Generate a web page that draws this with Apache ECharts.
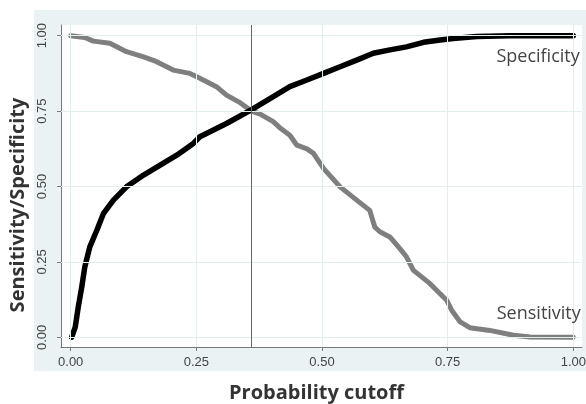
<!DOCTYPE html>
<html>
<head>
<meta charset="utf-8">
<script src="https://cdn.jsdelivr.net/npm/echarts@6/dist/echarts.min.js"></script>
<style>
html,body{margin:0;padding:0;background:#fff;}
#c{width:586px;height:404px;}
</style>
</head>
<body>
<div id="c"></div>
<script>
// Probability cutoff ticks
var ticks = [0, 0.25, 0.5, 0.75, 1];
var tickLabels = ['0.00', '0.25', '0.50', '0.75', '1.00'];
var cutoff = 0.36;

// Sensitivity curve (gray)
var sensX = [0.000,0.028,0.045,0.078,0.111,0.145,0.171,0.204,0.237,0.257,0.290,0.310,0.337,0.360,0.377,0.403,0.416,0.436,0.450,0.470,0.483,0.503,0.536,0.569,0.595,0.605,0.615,0.635,0.655,0.668,0.682,0.715,0.748,0.758,0.775,0.794,0.834,0.881,0.914,1.000];
var sensY = [1.000,0.994,0.982,0.975,0.947,0.930,0.914,0.886,0.875,0.859,0.831,0.803,0.778,0.750,0.740,0.715,0.695,0.670,0.637,0.625,0.610,0.560,0.499,0.455,0.421,0.366,0.350,0.333,0.294,0.267,0.222,0.178,0.123,0.090,0.051,0.032,0.023,0.007,0.001,0.000];

// Specificity curve (black)
var specX = [0.002,0.009,0.015,0.022,0.028,0.038,0.052,0.065,0.085,0.111,0.145,0.178,0.211,0.244,0.257,0.310,0.360,0.403,0.436,0.470,0.503,0.536,0.569,0.602,0.635,0.668,0.702,0.735,0.761,0.808,0.874,1.000];
var specY = [0.001,0.034,0.100,0.167,0.233,0.300,0.355,0.410,0.455,0.499,0.538,0.571,0.604,0.643,0.665,0.709,0.755,0.798,0.831,0.853,0.875,0.897,0.919,0.942,0.953,0.963,0.978,0.986,0.991,0.997,1.000,1.000];

function zip(a, b) { return a.map(function (v, i) { return [v, b[i]]; }); }

var gridLines = [];
ticks.forEach(function (t) { gridLines.push({ xAxis: t }); gridLines.push({ yAxis: t }); });

var chart = echarts.init(document.getElementById('c'), null, { renderer: 'canvas' });
chart.setOption({
  animation: false,
  backgroundColor: '#fff',
  graphic: [{
    type: 'rect', z: -10, silent: true,
    shape: { x: 34, y: 10, width: 552, height: 361 },
    style: { fill: '#eaf2f3' }
  }],
  grid: {
    left: 61, top: 25, right: 4, bottom: 57,
    outerBoundsMode: 'none', containLabel: false,
    show: true, backgroundColor: '#ffffff', borderWidth: 0
  },
  xAxis: {
    type: 'value', min: -0.0193, max: 1.0173,
    name: 'Probability cutoff', nameLocation: 'middle', nameGap: 36,
    nameTextStyle: { fontFamily: 'Open Sans', fontWeight: 'bold', fontSize: 20, color: '#333', padding: [0, 10, 0, 0] },
    axisLine: { show: true, onZero: false, lineStyle: { color: '#777', width: 1 } },
    axisTick: { show: true, length: 4, customValues: ticks, lineStyle: { color: '#777' } },
    axisLabel: {
      customValues: ticks, margin: 9, fontFamily: 'Liberation Sans', fontSize: 13, color: '#444',
      formatter: function (v) { var i = ticks.indexOf(v); return i >= 0 ? tickLabels[i] : ''; }
    },
    splitLine: { show: false }
  },
  yAxis: {
    type: 'value', min: -0.032, max: 1.0355,
    name: 'Sensitivity/Specificity', nameLocation: 'middle', nameGap: 25,
    nameTextStyle: { fontFamily: 'Open Sans', fontWeight: 'bold', fontSize: 20, color: '#333', padding: [0, 38, 0, 0] },
    axisLine: { show: true, onZero: false, lineStyle: { color: '#777', width: 1 } },
    axisTick: { show: true, length: 4, customValues: ticks, lineStyle: { color: '#777' } },
    axisLabel: {
      customValues: ticks, rotate: 90, margin: 12, fontFamily: 'Liberation Sans', fontSize: 13, color: '#444',
      formatter: function (v) { var i = ticks.indexOf(v); return i >= 0 ? tickLabels[i] : ''; }
    },
    splitLine: { show: false }
  },
  series: [
    {
      name: 'grid', type: 'line', data: [], silent: true,
      markLine: {
        silent: true, symbol: 'none', label: { show: false },
        lineStyle: { color: '#e4eded', width: 1, type: 'solid' },
        data: gridLines, animation: false
      }
    },
    {
      name: 'Sensitivity', type: 'line', data: zip(sensX, sensY),
      showSymbol: false, clip: false, z: 3,
      lineStyle: { color: '#7f7f7f', width: 5, cap: 'round', join: 'round' },
      markPoint: {
        symbol: 'circle', symbolSize: 1, itemStyle: { color: 'rgba(0,0,0,0)' },
        label: { show: true, formatter: 'Sensitivity', position: [8, -23], align: 'right', verticalAlign: 'middle',
          fontFamily: 'Open Sans', fontSize: 18, color: '#444' },
        data: [{ coord: [1, 0] }]
      }
    },
    {
      name: 'Specificity', type: 'line', data: zip(specX, specY),
      showSymbol: false, clip: false, z: 4,
      lineStyle: { color: '#000', width: 5.5, cap: 'round', join: 'round' },
      markPoint: {
        symbol: 'circle', symbolSize: 1, itemStyle: { color: 'rgba(0,0,0,0)' },
        label: { show: true, formatter: 'Specificity', position: [7, 22], align: 'right', verticalAlign: 'middle',
          fontFamily: 'Open Sans', fontSize: 18, color: '#444' },
        data: [{ coord: [1, 1] }]
      },
      markLine: {
        silent: true, symbol: 'none', label: { show: false },
        lineStyle: { color: '#666', width: 1, type: 'solid' },
        data: [{ xAxis: cutoff }]
      }
    }
  ]
});
</script>
</body>
</html>
